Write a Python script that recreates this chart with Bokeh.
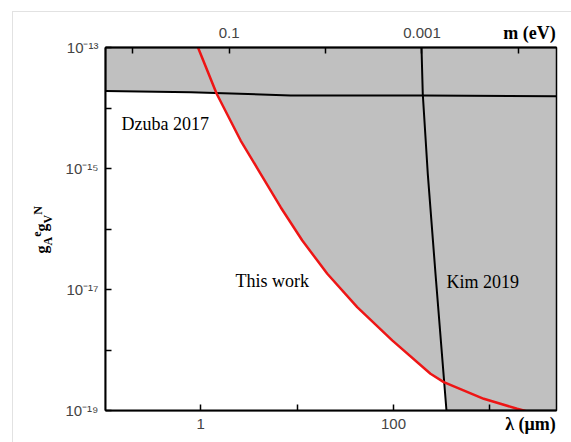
import numpy as np
from bokeh.plotting import figure
from bokeh.models import Label, LogAxis, FixedTicker, CustomJSTickFormatter
from bokeh.embed import file_html
from bokeh.resources import INLINE

# ---------------- data ----------------
HBARC = 0.1973  # eV * um, m = hbar*c / lambda

x_start, x_end = 0.103, 4900.0
y_start, y_end = 1e-19, 1e-13

# "This work" (red)
red_lambda = [0.938, 1.465, 2.597, 4.186, 6.75, 11.32, 20.56, 42.0, 96.9, 241.7, 332.0, 863.0, 1914.0, 2334.0]
red_g = [1e-13, 1.72e-14, 2.90e-15, 8.17e-16, 2.29e-16, 6.45e-17, 1.82e-17, 5.10e-18,
         1.44e-18, 4.04e-19, 2.94e-19, 1.56e-19, 1.07e-19, 9.8e-20]

# Dzuba 2017
dz_lambda = [0.103, 0.788, 8.56, 204.6, 4900.0]
dz_g = [1.91e-14, 1.82e-14, 1.61e-14, 1.61e-14, 1.57e-14]

# Kim 2019
kim_lambda = [195.0, 201.0, 226.6, 272.4, 354.0]
kim_g = [1e-13, 1.72e-14, 8.17e-16, 1.82e-17, 1e-19]

# ticks
bottom_ticks = [1, 10, 100, 1000]
bottom_labels = {"0": "1", "2": "100"}
top_m_ticks = [1, 0.1, 0.01, 0.001, 0.0001]
top_labels = {"-1": "0.1", "-3": "0.001"}
left_ticks = [1e-19, 1e-18, 1e-17, 1e-16, 1e-15, 1e-14, 1e-13]
left_labels = {"-19": "10⁻¹⁹", "-17": "10⁻¹⁷", "-15": "10⁻¹⁵", "-13": "10⁻¹³"}

# ---------------- allowed (white) region ----------------
lg = np.linspace(np.log10(x_start), np.log10(x_end), 3000)
D = np.interp(lg, np.log10(dz_lambda), np.log10(dz_g))
R = np.interp(lg, np.log10(red_lambda), np.log10(red_g), left=0.0, right=-30.0)
U = np.minimum(D, R)
kl = np.log10(kim_lambda)[::-1]
kg = np.log10(kim_g)[::-1]
kim_at_U = np.interp(U, kg, kl)
mask = lg < kim_at_U
ux = lg[mask]
uy = U[mask]
kim_gs = np.linspace(uy[-1], np.log10(y_start), 50)
kim_ls = np.interp(kim_gs, kg, kl)
wx = np.concatenate([[np.log10(x_start)], ux, kim_ls, [np.log10(x_start)]])
wy = np.concatenate([[np.log10(y_start)], uy, kim_gs, [np.log10(y_start)]])
white_x = 10 ** wx
white_y = 10 ** wy

# ---------------- figure ----------------
ML, MT = 13, 12                 # figure offset inside the page (faint outer frame)
W, H = 571 - ML, 442 - MT
FL, FT, FW, FH = 105, 47, 451, 363  # frame geometry in page px
bl, bt = FL - ML, FT - MT
p = figure(width=W, height=H, x_axis_type="log", y_axis_type="log",
           x_range=(x_start, x_end), y_range=(y_start, y_end),
           output_backend="svg", toolbar_location=None,
           min_border_left=bl, min_border_right=W - bl - FW,
           min_border_top=bt, min_border_bottom=H - bt - FH)
p.styles = {"margin-left": "%dpx" % ML, "margin-top": "%dpx" % MT,
            "outline": "1px solid #e2e2e2"}
p.background_fill_color = "#c0c0c0"
p.border_fill_color = "white"
p.outline_line_color = "black"
p.outline_line_width = 1.5
p.grid.visible = False

p.patch(white_x, white_y, fill_color="white", line_color=None)

p.line(dz_lambda, dz_g, line_color="black", line_width=2)
p.line(kim_lambda, kim_g, line_color="black", line_width=2)
p.line(red_lambda, red_g, line_color="#ee1515", line_width=2.5)


def style_axis(ax):
    ax.axis_line_color = "black"
    ax.axis_line_width = 2
    ax.major_tick_in = 6
    ax.major_tick_out = 0
    ax.minor_tick_in = 0
    ax.minor_tick_out = 0
    ax.major_tick_line_color = "black"
    ax.major_tick_line_width = 1.5
    ax.major_label_text_font = "Liberation Sans"
    ax.major_label_text_font_size = "15px"
    ax.major_label_text_color = "#444444"


def js_obj(d):
    return "{" + ",".join('"%s":"%s"' % (k, v) for k, v in d.items()) + "}"


xb = p.xaxis[0]
xb.ticker = FixedTicker(ticks=bottom_ticks, minor_ticks=[])
xb.formatter = CustomJSTickFormatter(code="const L=%s; const e=Math.round(Math.log10(tick)); return L[String(e)] || '';" % js_obj(bottom_labels))
style_axis(xb)
xb.major_label_standoff = 8

yl = p.yaxis[0]
yl.ticker = FixedTicker(ticks=left_ticks, minor_ticks=[])
yl.formatter = CustomJSTickFormatter(code="const L=%s; const e=Math.round(Math.log10(tick)); return L[String(e)] || '';" % js_obj(left_labels))
style_axis(yl)
yl.major_label_standoff = 7

top_lambda_ticks = [HBARC / m for m in top_m_ticks]
xt = LogAxis(ticker=FixedTicker(ticks=top_lambda_ticks, minor_ticks=[]),
             formatter=CustomJSTickFormatter(args=dict(H=HBARC),
                                             code="const L=%s; const e=Math.round(Math.log10(H/tick)); return L[String(e)] || '';" % js_obj(top_labels)))
style_axis(xt)
xt.major_label_standoff = 10
p.add_layout(xt, "above")

# ---------------- texts ----------------
serif = "Liberation Serif"


def px_to_lambda(px):
    lx0, lx1 = np.log10(x_start), np.log10(x_end)
    return 10 ** (lx0 + (px - FL) / FW * (lx1 - lx0))


def py_to_g(py):
    ly0, ly1 = np.log10(y_start), np.log10(y_end)
    return 10 ** (ly1 - (py - FT) / FH * (ly1 - ly0))


def text_axis(side, ticks, labels, size, standoff, orientation="horizontal"):
    # an axis without line or ticks that only carries title texts
    d = {i: t for i, t in enumerate(labels)}
    code = "const L=%s; return L[String(index)] || '';" % js_obj(d)
    ax = LogAxis(ticker=FixedTicker(ticks=ticks, minor_ticks=[]),
                 formatter=CustomJSTickFormatter(code=code))
    ax.axis_line_color = None
    ax.major_tick_line_color = None
    ax.minor_tick_line_color = None
    ax.major_tick_out = 0
    ax.major_tick_in = 0
    ax.minor_tick_out = 0
    ax.minor_tick_in = 0
    ax.major_label_standoff = int(round(standoff))
    ax.major_label_text_font = serif
    ax.major_label_text_font_size = size
    ax.major_label_text_font_style = "bold"
    ax.major_label_text_color = "black"
    ax.major_label_orientation = orientation
    p.add_layout(ax, side)


def lab(text, x, y, size="18px"):
    p.add_layout(Label(x=x, y=y, x_units="screen", y_units="screen", text=text,
                       text_font=serif, text_font_size=size, text_color="black",
                       text_align="left", text_baseline="alphabetic"))


# in-frame annotations (screen units relative to the frame's bottom-left corner)
lab("Dzuba 2017", 16, 287)
lab("This work", 130, 130)
lab("Kim 2019", 341, 129)

# axis titles at the ends of the top / bottom axes (same row as the tick labels)
text_axis("above", [px_to_lambda(529.0)], ["m (eV)"], "18px", 9 - 26.8)
text_axis("below", [px_to_lambda(530.0)], ["λ (μm)"], "18px", 7 - 24.8)

# rotated y title g_A^e g_V^N, built from pieces
main_left = 42.0
h12, h16 = 13.3, 17.7
d_sub, d_g, d_sup = 49.0, 51.0, 53.5
sub_centers = [py_to_g(240.6), py_to_g(218.6)]
g_centers = [py_to_g(249.0), py_to_g(227.0)]
sup_centers = [py_to_g(233.6), py_to_g(210.0)]
cum = main_left
text_axis("left", sub_centers, ["A", "V"], "12px", d_sub - cum, "parallel")
cum = d_sub + h12
text_axis("left", g_centers, ["g", "g"], "16px", d_g - cum, "parallel")
cum = d_g + h16
text_axis("left", sup_centers, ["e", "N"], "12px", d_sup - cum, "parallel")

open("out.html", "w").write(file_html(p, INLINE))
